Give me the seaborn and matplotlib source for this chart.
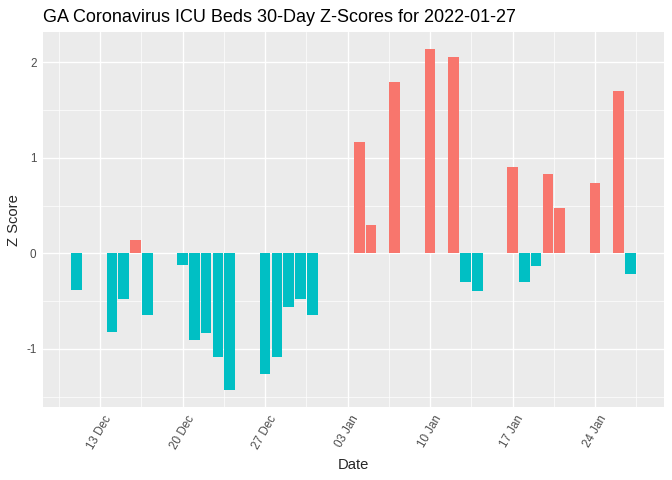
import pandas as pd
import numpy as np
import matplotlib
matplotlib.use("Agg")
import matplotlib.pyplot as plt
import matplotlib.dates as mdates
import seaborn as sns

# Datos
dates = ["2021-12-11", "2021-12-14", "2021-12-15", "2021-12-16", "2021-12-17",
         "2021-12-20", "2021-12-21", "2021-12-22", "2021-12-23", "2021-12-24",
         "2021-12-27", "2021-12-28", "2021-12-29", "2021-12-30", "2021-12-31",
         "2022-01-04", "2022-01-05", "2022-01-07", "2022-01-10", "2022-01-12",
         "2022-01-13", "2022-01-14", "2022-01-17", "2022-01-18", "2022-01-19",
         "2022-01-20", "2022-01-21", "2022-01-24", "2022-01-26", "2022-01-27"]
z_scores = [-0.38, -0.82, -0.48, 0.14, -0.65,
            -0.12, -0.91, -0.83, -1.09, -1.43,
            -1.26, -1.09, -0.56, -0.48, -0.65,
            1.17, 0.30, 1.79, 2.14, 2.06,
            -0.30, -0.39, 0.91, -0.30, -0.13,
            0.83, 0.48, 0.74, 1.70, -0.22]
tick_dates = ["2021-12-13", "2021-12-20", "2021-12-27", "2022-01-03",
              "2022-01-10", "2022-01-17", "2022-01-24"]

sns.set_style("darkgrid")
plt.rcParams['font.family'] = ['Liberation Sans', 'DejaVu Sans']

df = pd.DataFrame({
    'date_num': mdates.date2num(pd.to_datetime(dates)),
    'z': z_scores,
})
df['sign'] = np.where(df['z'] > 0, 'pos', 'neg')

fig, ax = plt.subplots(figsize=(6.72, 4.8), dpi=100)
fig.subplots_adjust(left=43/672, right=664/672, top=1-32/480, bottom=1-407/480)

sns.barplot(data=df, x='date_num', y='z', hue='sign',
            palette={'pos': '#F8766D', 'neg': '#00BFC4'},
            native_scale=True, dodge=False, width=0.9, saturation=1,
            errorbar=None, legend=False, linewidth=0, ax=ax)

# Limites estilo ggplot (expansion 5%)
xmin, xmax = df['date_num'].min() - 0.45, df['date_num'].max() + 0.45
xr = xmax - xmin
ax.set_xlim(xmin - 0.05 * xr, xmax + 0.05 * xr)
ymin, ymax = df['z'].min(), df['z'].max()
yr = ymax - ymin
ax.set_ylim(ymin - 0.05 * yr, ymax + 0.05 * yr)

major = mdates.date2num(pd.to_datetime(tick_dates))
ax.set_xticks(major)
ax.set_xticks(np.append(major - 3.5, major[-1] + 3.5), minor=True)
ax.xaxis.set_major_formatter(mdates.DateFormatter('%d %b'))
ax.set_yticks([-1, 0, 1, 2])
ax.set_yticks([-1.5, -0.5, 0.5, 1.5], minor=True)
ax.set_yticklabels(['-1', '0', '1', '2'])

ax.set_facecolor('#EBEBEB')
for s in ax.spines.values():
    s.set_visible(False)
ax.set_axisbelow(True)
ax.grid(which='major', color='white', linewidth=1.0)
ax.grid(which='minor', color='white', linewidth=0.5)
ax.tick_params(which='major', length=2.7, width=0.8, color='#333333',
               labelcolor='#4D4D4D', labelsize=8.4, pad=2)
ax.tick_params(which='minor', length=0)
plt.setp(ax.get_xticklabels(), rotation=60, ha='center', va='top')

ax.set_xlabel('')
ax.set_ylabel('')
fig.text(43/672, 1 - 22/480, 'GA Coronavirus ICU Beds 30-Day Z-Scores for 2022-01-27',
         fontsize=13, va='baseline', ha='left', color='black')
fig.text(353/672, 1 - 465/480, 'Date', fontsize=10.6, ha='center', va='center')
fig.text(14/672, 1 - 220/480, 'Z Score', fontsize=10.6, ha='center', va='center',
         rotation=90)

plt.savefig('out.png', dpi=100)
